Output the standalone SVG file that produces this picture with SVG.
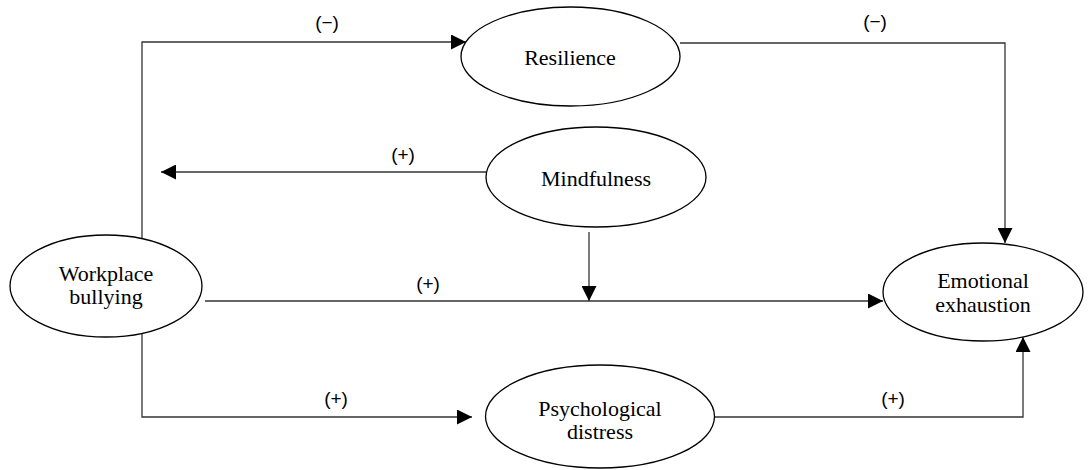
<svg xmlns="http://www.w3.org/2000/svg" width="1088" height="470" viewBox="0 0 1088 470">
<style>
.node ellipse{fill:#fff;stroke:#000;stroke-width:1.3}
.node text{font-family:"Liberation Serif","Times New Roman",serif;font-size:22px;fill:#000;text-anchor:middle}
.conn path{fill:none;stroke:#333;stroke-width:1.3}
.lbl{font-family:"Liberation Sans",Arial,sans-serif;font-size:19px;fill:#000;text-anchor:middle}
</style>
<defs>
<marker id="arr" viewBox="0 0 15 15" refX="15" refY="7.5" markerWidth="15" markerHeight="15" markerUnits="userSpaceOnUse" orient="auto">
<path d="M0,0 L15,7.5 L0,15 Z" fill="#000"/>
</marker>
</defs>
<rect width="1088" height="470" fill="#fff"/>
<g id="connectors" class="conn">
<path d="M142,239 V42 H466" marker-end="url(#arr)"/>
<path d="M680,43 H1005 V243" marker-end="url(#arr)"/>
<path d="M486,172 H161" marker-end="url(#arr)"/>
<path d="M205,301 H883" marker-end="url(#arr)"/>
<path d="M589,232 V301" marker-end="url(#arr)"/>
<path d="M142,333 V417 H472" marker-end="url(#arr)"/>
<path d="M714,417 H1023 V337" marker-end="url(#arr)"/>
</g>
<g id="labels">
<text class="lbl" x="327" y="29">(−)</text>
<text class="lbl" x="875" y="28">(−)</text>
<text class="lbl" x="403" y="161">(+)</text>
<text class="lbl" x="428" y="290">(+)</text>
<text class="lbl" x="336" y="405">(+)</text>
<text class="lbl" x="893" y="405">(+)</text>
</g>
<g id="resilience" class="node">
<ellipse cx="570.5" cy="56.5" rx="109.5" ry="49.5"/>
<text x="570" y="65">Resilience</text>
</g>
<g id="mindfulness" class="node">
<ellipse cx="596" cy="177" rx="110" ry="50"/>
<text x="596" y="186">Mindfulness</text>
</g>
<g id="workplace-bullying" class="node">
<ellipse cx="106" cy="286" rx="96" ry="51"/>
<text x="106" y="281">Workplace</text>
<text x="106" y="304">bullying</text>
</g>
<g id="emotional-exhaustion" class="node">
<ellipse cx="983" cy="292" rx="100" ry="49"/>
<text x="983" y="288">Emotional</text>
<text x="983" y="312">exhaustion</text>
</g>
<g id="psychological-distress" class="node">
<ellipse cx="600" cy="416.5" rx="114.5" ry="51.5"/>
<text x="600" y="416">Psychological</text>
<text x="600" y="439">distress</text>
</g>
</svg>
